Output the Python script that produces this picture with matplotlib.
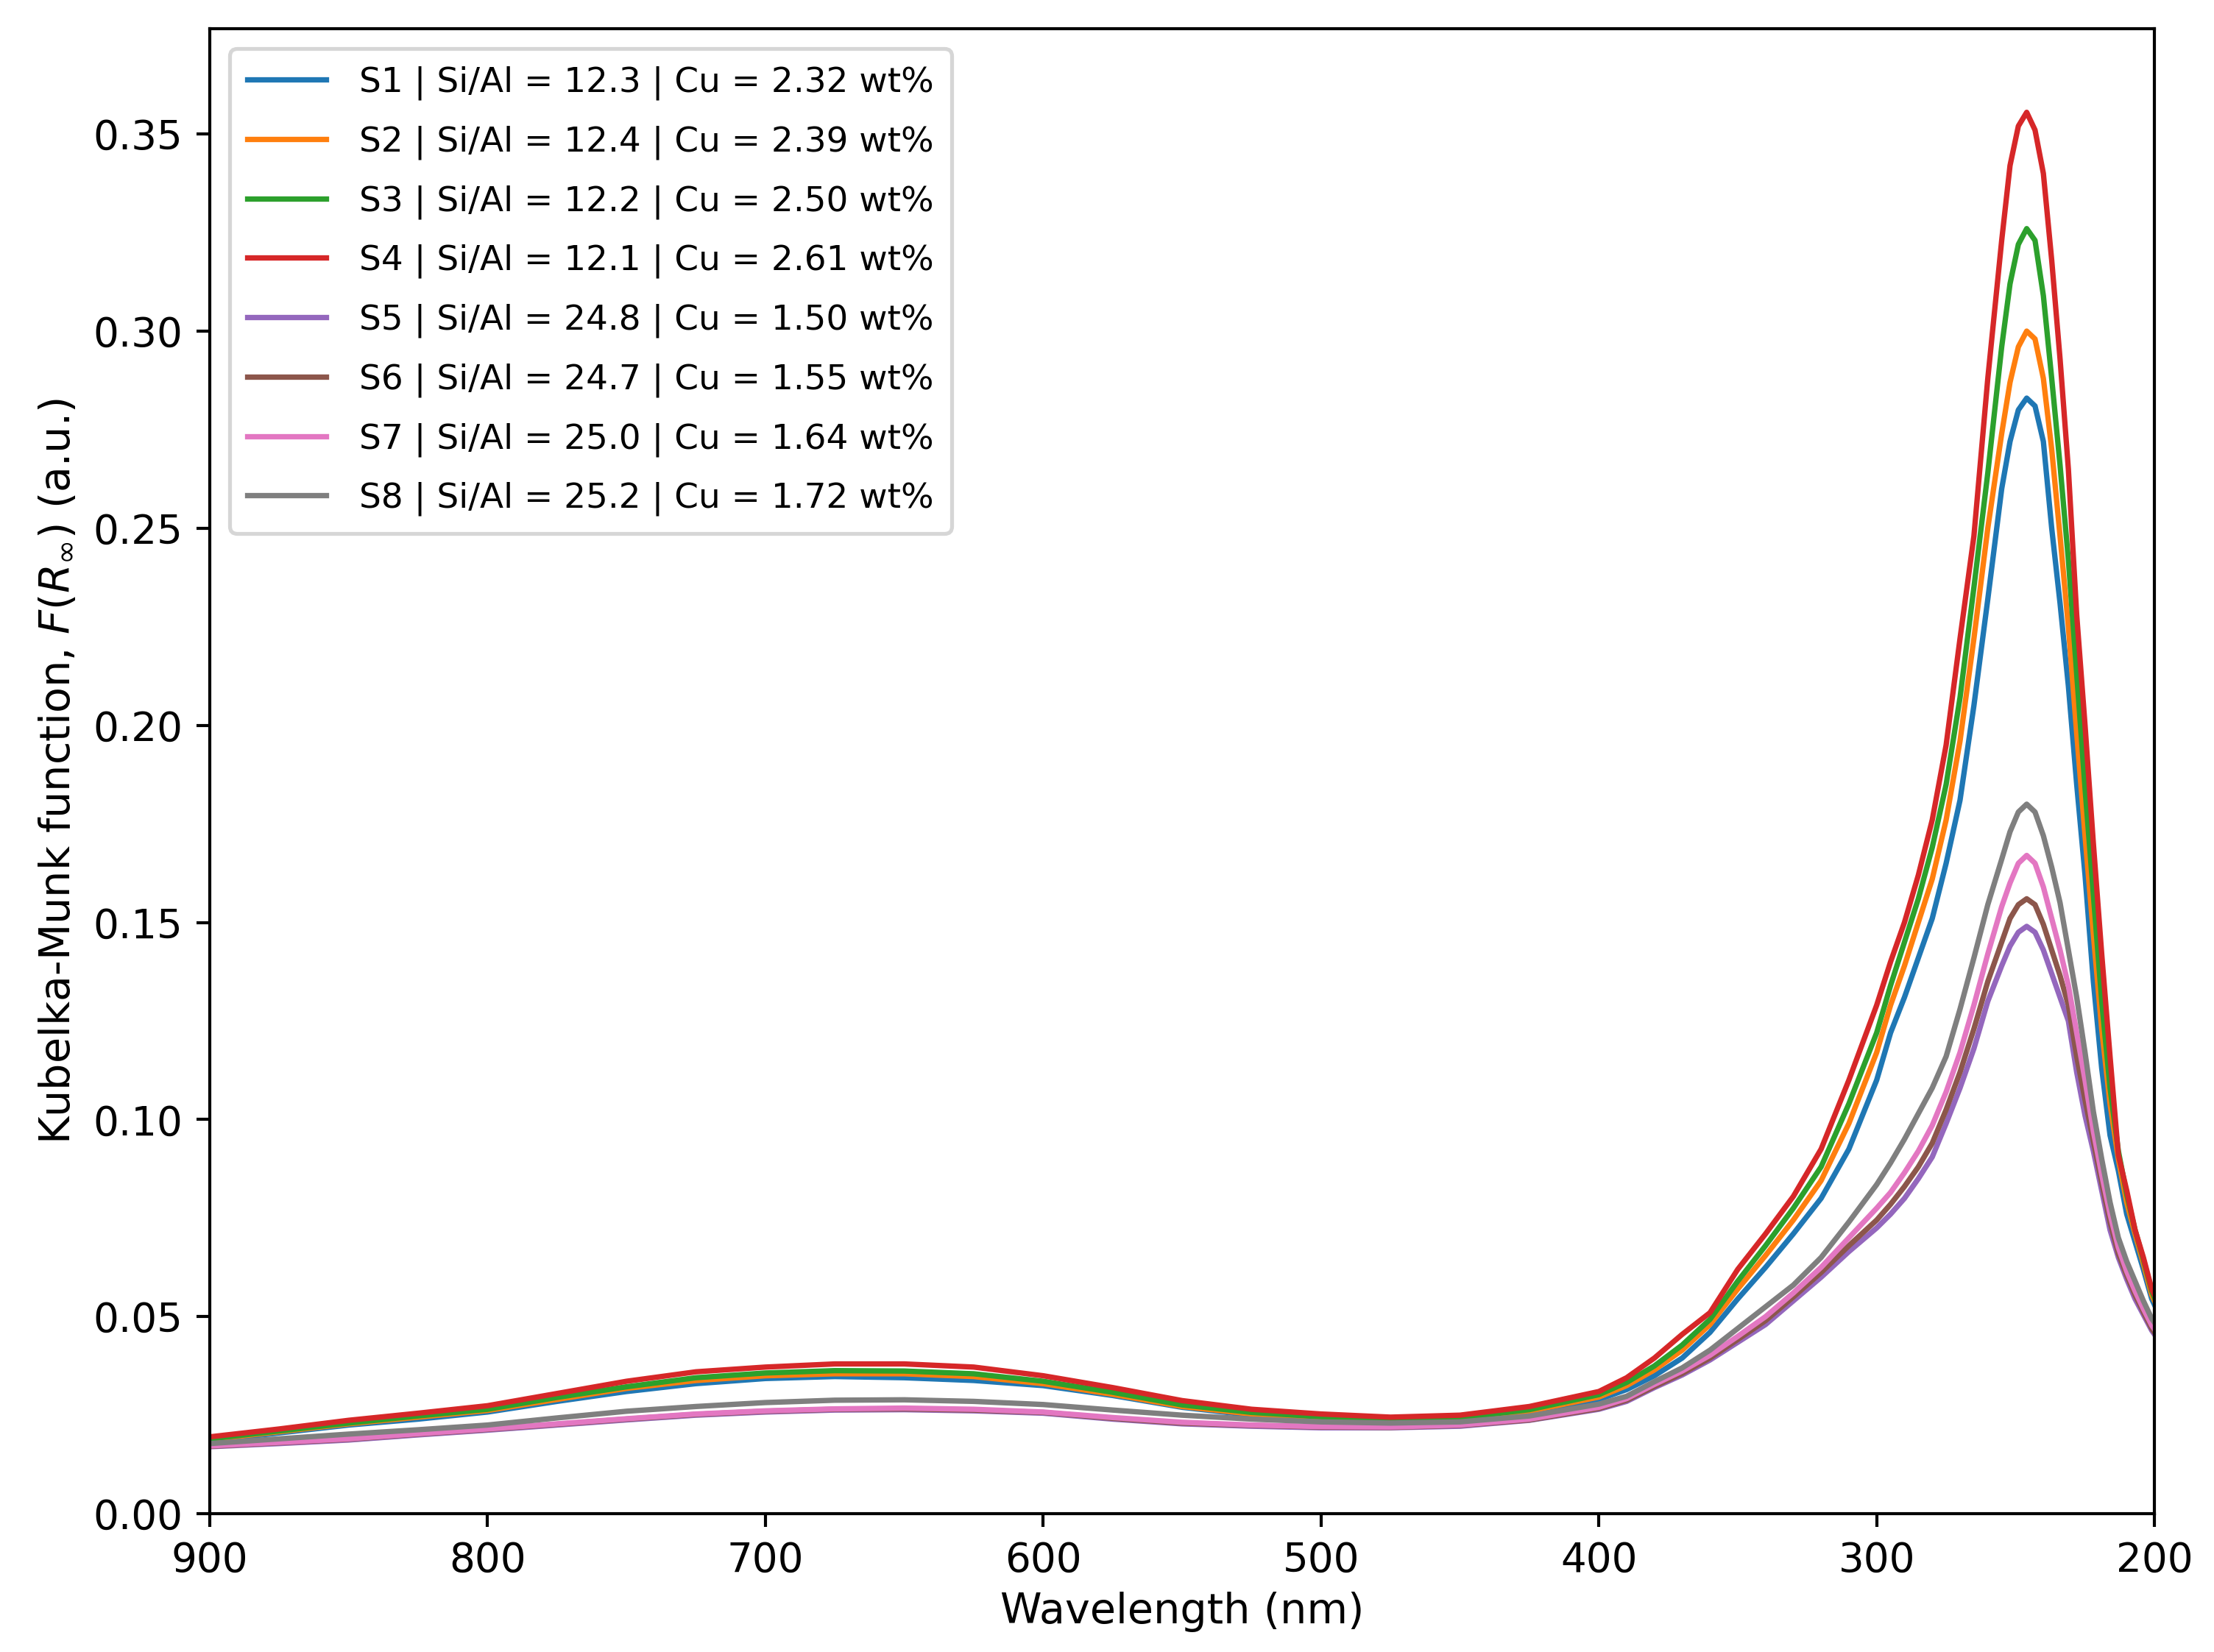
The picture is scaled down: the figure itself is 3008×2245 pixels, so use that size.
import matplotlib
matplotlib.use("Agg")
import matplotlib.pyplot as plt

# wavelength grid (nm) and Kubelka-Munk values
wavelength = [900, 875, 850, 825, 800, 775, 750, 725, 700, 675, 650, 625, 600, 575,
              550, 525, 500, 475, 450, 425, 400, 390, 380, 370, 360, 350, 340, 330,
              320, 310, 300, 295, 290, 285, 280, 275, 270, 265, 260, 255, 252, 249,
              246, 243, 240, 237, 234, 231, 228, 225, 222, 219, 216, 213, 210, 207,
              204, 201, 200]

s1 = [0.0185, 0.0205, 0.0225, 0.0240, 0.0258, 0.0285, 0.0310, 0.0330, 0.0343, 0.0348,
      0.0345, 0.0338, 0.0325, 0.0300, 0.0270, 0.0250, 0.0240, 0.0235, 0.0238, 0.0255,
      0.0290, 0.0315, 0.0350, 0.0395, 0.0460, 0.0545, 0.0625, 0.0710, 0.0800, 0.0925,
      0.1100, 0.1220, 0.1310, 0.1410, 0.1510, 0.1650, 0.1810, 0.2050, 0.2320, 0.2600,
      0.2720, 0.2800, 0.2830, 0.2810, 0.2720, 0.2500, 0.2310, 0.2100, 0.1850, 0.1620,
      0.1350, 0.1130, 0.0960, 0.0870, 0.0760, 0.0690, 0.0620, 0.0545, 0.0530]

s2 = [0.0188, 0.0208, 0.0228, 0.0245, 0.0262, 0.0290, 0.0318, 0.0338, 0.0350, 0.0355,
      0.0355, 0.0348, 0.0330, 0.0303, 0.0272, 0.0253, 0.0243, 0.0237, 0.0240, 0.0260,
      0.0296, 0.0325, 0.0365, 0.0415, 0.0480, 0.0570, 0.0655, 0.0745, 0.0845, 0.0990,
      0.1170, 0.1290, 0.1390, 0.1500, 0.1610, 0.1760, 0.1960, 0.2220, 0.2500, 0.2740,
      0.2870, 0.2960, 0.3000, 0.2980, 0.2880, 0.2700, 0.2480, 0.2250, 0.1980, 0.1720,
      0.1470, 0.1230, 0.1040, 0.0900, 0.0790, 0.0710, 0.0635, 0.0555, 0.0540]

s3 = [0.0190, 0.0210, 0.0230, 0.0248, 0.0265, 0.0295, 0.0322, 0.0345, 0.0357, 0.0363,
      0.0362, 0.0355, 0.0336, 0.0308, 0.0276, 0.0257, 0.0246, 0.0240, 0.0243, 0.0264,
      0.0302, 0.0333, 0.0375, 0.0428, 0.0493, 0.0590, 0.0680, 0.0775, 0.0880, 0.1040,
      0.1220, 0.1340, 0.1450, 0.1560, 0.1690, 0.1850, 0.2070, 0.2350, 0.2640, 0.2960,
      0.3120, 0.3220, 0.3260, 0.3230, 0.3090, 0.2880, 0.2660, 0.2420, 0.2130, 0.1840,
      0.1570, 0.1300, 0.1080, 0.0920, 0.0810, 0.0720, 0.0645, 0.0565, 0.0548]

s4 = [0.0195, 0.0215, 0.0237, 0.0255, 0.0274, 0.0305, 0.0336, 0.0360, 0.0372, 0.0380,
      0.0380, 0.0372, 0.0350, 0.0320, 0.0287, 0.0265, 0.0253, 0.0245, 0.0250, 0.0272,
      0.0310, 0.0345, 0.0395, 0.0455, 0.0510, 0.0620, 0.0710, 0.0805, 0.0925, 0.1100,
      0.1290, 0.1400, 0.1500, 0.1620, 0.1760, 0.1950, 0.2220, 0.2480, 0.2880, 0.3230,
      0.3420, 0.3520, 0.3555, 0.3510, 0.3400, 0.3180, 0.2930, 0.2650, 0.2280, 0.2000,
      0.1700, 0.1420, 0.1160, 0.0910, 0.0820, 0.0720, 0.0650, 0.0570, 0.0555]

s5 = [0.0170, 0.0178, 0.0187, 0.0200, 0.0212, 0.0225, 0.0238, 0.0250, 0.0258, 0.0263,
      0.0264, 0.0261, 0.0255, 0.0240, 0.0228, 0.0222, 0.0218, 0.0218, 0.0222, 0.0237,
      0.0265, 0.0285, 0.0320, 0.0352, 0.0390, 0.0435, 0.0480, 0.0540, 0.0600, 0.0665,
      0.0725, 0.0760, 0.0800, 0.0850, 0.0905, 0.0990, 0.1080, 0.1180, 0.1300, 0.1390,
      0.1440, 0.1475, 0.1490, 0.1475, 0.1430, 0.1370, 0.1310, 0.1250, 0.1120, 0.1010,
      0.0920, 0.0820, 0.0720, 0.0650, 0.0595, 0.0545, 0.0505, 0.0465, 0.0455]

s6 = [0.0171, 0.0180, 0.0189, 0.0202, 0.0214, 0.0227, 0.0240, 0.0252, 0.0260, 0.0265,
      0.0266, 0.0263, 0.0257, 0.0242, 0.0230, 0.0224, 0.0220, 0.0219, 0.0224, 0.0238,
      0.0267, 0.0288, 0.0323, 0.0356, 0.0395, 0.0442, 0.0490, 0.0550, 0.0612, 0.0680,
      0.0745, 0.0785, 0.0830, 0.0880, 0.0940, 0.1025, 0.1120, 0.1230, 0.1350, 0.1450,
      0.1510, 0.1545, 0.1560, 0.1545, 0.1495, 0.1430, 0.1365, 0.1290, 0.1160, 0.1050,
      0.0945, 0.0840, 0.0740, 0.0660, 0.0605, 0.0555, 0.0512, 0.0470, 0.0460]

s7 = [0.0172, 0.0181, 0.0190, 0.0203, 0.0215, 0.0228, 0.0241, 0.0253, 0.0261, 0.0266,
      0.0268, 0.0265, 0.0258, 0.0244, 0.0232, 0.0225, 0.0221, 0.0220, 0.0225, 0.0240,
      0.0270, 0.0292, 0.0328, 0.0362, 0.0402, 0.0450, 0.0500, 0.0560, 0.0625, 0.0700,
      0.0775, 0.0815, 0.0865, 0.0920, 0.0985, 0.1070, 0.1170, 0.1290, 0.1420, 0.1540,
      0.1600, 0.1650, 0.1670, 0.1650, 0.1590, 0.1510, 0.1430, 0.1340, 0.1220, 0.1100,
      0.0970, 0.0860, 0.0760, 0.0675, 0.0615, 0.0565, 0.0520, 0.0478, 0.0468]

s8 = [0.0178, 0.0190, 0.0202, 0.0213, 0.0225, 0.0243, 0.0260, 0.0272, 0.0282, 0.0288,
      0.0289, 0.0285, 0.0277, 0.0263, 0.0250, 0.0240, 0.0233, 0.0230, 0.0233, 0.0248,
      0.0278, 0.0298, 0.0335, 0.0370, 0.0415, 0.0470, 0.0525, 0.0580, 0.0650, 0.0740,
      0.0835, 0.0890, 0.0950, 0.1015, 0.1080, 0.1160, 0.1280, 0.1410, 0.1545, 0.1660,
      0.1730, 0.1780, 0.1800, 0.1780, 0.1720, 0.1640, 0.1550, 0.1430, 0.1310, 0.1170,
      0.1020, 0.0900, 0.0790, 0.0700, 0.0640, 0.0590, 0.0540, 0.0495, 0.0485]

labels = [
    "S1 | Si/Al = 12.3 | Cu = 2.32 wt%",
    "S2 | Si/Al = 12.4 | Cu = 2.39 wt%",
    "S3 | Si/Al = 12.2 | Cu = 2.50 wt%",
    "S4 | Si/Al = 12.1 | Cu = 2.61 wt%",
    "S5 | Si/Al = 24.8 | Cu = 1.50 wt%",
    "S6 | Si/Al = 24.7 | Cu = 1.55 wt%",
    "S7 | Si/Al = 25.0 | Cu = 1.64 wt%",
    "S8 | Si/Al = 25.2 | Cu = 1.72 wt%",
]
series = [s1, s2, s3, s4, s5, s6, s7, s8]

plt.rcParams["font.size"] = 10.5

fig, ax = plt.subplots(figsize=(3009 / 375, 2245 / 375), dpi=375)
fig.subplots_adjust(left=0.0947, right=0.9728, bottom=0.0837, top=0.9826)

for y, lab in zip(series, labels):
    ax.plot(wavelength, y, lw=1.4, label=lab)

ax.set_xlim(900, 200)
ax.set_ylim(0, 0.3767)
ax.set_xticks([900, 800, 700, 600, 500, 400, 300, 200])
ax.tick_params(labelsize=10.5)
ax.set_xlabel("Wavelength (nm)", fontsize=11, labelpad=3)
ax.set_ylabel(r"Kubelka-Munk function, $F(R_{\infty})$ (a.u.)", fontsize=11)
ax.legend(loc="upper left", fontsize=9, labelspacing=0.73, handlelength=2.3,
          handletextpad=0.96, borderaxespad=0.58, borderpad=0.5)

fig.savefig("out.png", dpi=375)
